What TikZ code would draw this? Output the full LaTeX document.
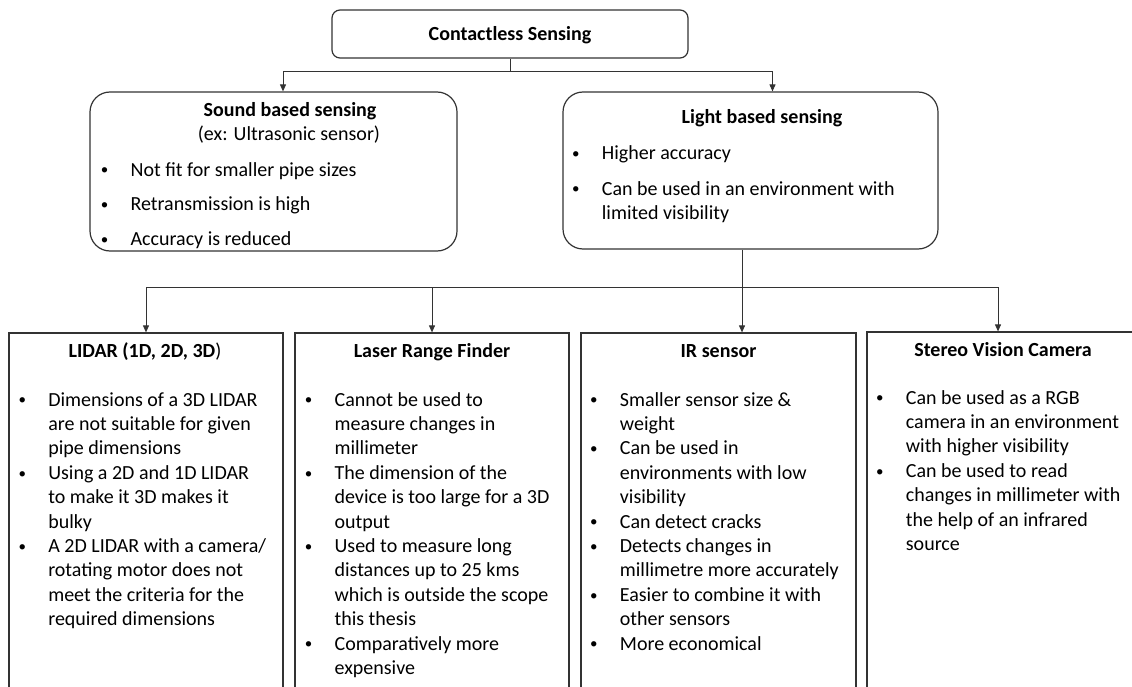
\documentclass[tikz,border=0pt]{standalone}
\usepackage{fontspec}
\usepackage{graphicx}
\setmainfont{Carlito}
\usetikzlibrary{arrows.meta}
\tikzset{frame/.style={draw=black!80, line width=1.2pt, inner sep=0pt},
  rframe/.style={frame, rounded corners=#1},
  head/.style={font=\fontsize{20}{24.4}\selectfont\bfseries, anchor=base, inner sep=0pt},
  plain/.style={font=\fontsize{20}{24.4}\selectfont, anchor=base, inner sep=0pt},
  lst/.style={font=\fontsize{20}{24.4}\selectfont, anchor=north west, inner sep=0pt},
  link/.style={draw=black!80, line width=0.9pt},
  arr/.style={link, -{Triangle[length=7pt,width=6pt]}}}
\newcommand{\dotb}{\hspace{1pt}\raisebox{1.2pt}{\scalebox{0.75}{\textbullet}}}
\newenvironment{pts}{\begin{tabular}{@{}p{30.7pt}@{}l@{}}}{\end{tabular}}

\begin{document}
\begin{tikzpicture}[x=1pt, y=-1pt]
      \useasboundingbox (0,0) rectangle (1132,687);
      \clip (0,0) rectangle (1132,687);

      % boxes
      \node [rframe=8pt, minimum width=356pt, minimum height=48pt] (cs) at (510,34) {};
      \node [rframe=20pt, minimum width=367pt, minimum height=159pt] (sound) at (273.5,171.5) {};
      \node [rframe=20pt, minimum width=375pt, minimum height=157pt] (light) at (750.5,170.5) {};
      \node [frame, minimum width=274pt, minimum height=387pt] (lidar) at (146,526.5) {};
      \node [frame, minimum width=274pt, minimum height=387pt] (laser) at (432,526.5) {};
      \node [frame, minimum width=275pt, minimum height=387pt] (ir) at (718.5,526.5) {};
      \node [frame, minimum width=274pt, minimum height=389pt] (stereo) at (1004,526.5) {};

      % connectors
      \coordinate (j1) at (510,71);
      \draw [link] (cs.south) -- (j1);
      \draw [arr] (j1) -| ([xshift=9.5pt]sound.north);
      \draw [arr] (j1) -| ([xshift=22pt]light.north);

      \coordinate (j2) at (742,287);
      \draw [arr] ([xshift=-8.5pt]light.south) -- ([xshift=23.5pt]ir.north);
      \draw [arr] (j2) -| (lidar.north);
      \draw [arr] (j2) -| (laser.north);
      \draw [arr] (j2) -| ([xshift=-6pt]stereo.north);

      % texts
      \node [head] (cs-t) at (510,41) {Contactless Sensing};

      \node [head] (sound-t) at (290,117) {Sound based sensing};
      \node [plain] (sound-s) at (289,141) {(ex: Ultrasonic sensor)};
      \node [lst] (sound-l) at (99.7,158.9) {\begin{pts}
        \dotb & Not fit for smaller pipe sizes\\[10.3pt]
        \dotb & Retransmission is high\\[10.3pt]
        \dotb & Accuracy is reduced
      \end{pts}};

      \node [head] (light-t) at (762,124) {Light based sensing};
      \node [lst] (light-l) at (571,142.2) {\begin{pts}
        \dotb & Higher accuracy\\[11.3pt]
        \dotb & Can be used in an environment with\\
        & limited visibility
      \end{pts}};

      \node [head] (lidar-t) at (145,357.7) {\textbf{LIDAR (1D, 2D, 3D}\mdseries)};
      \node [lst] (lidar-l) at (17.4,388.9) {\begin{pts}
        \dotb & Dimensions of a 3D LIDAR\\
        & are not suitable for given\\
        & pipe dimensions\\
        \dotb & Using a 2D and 1D LIDAR\\
        & to make it 3D makes it\\
        & bulky\\
        \dotb & A 2D LIDAR with a camera/\\
        & rotating motor does not\\
        & meet the criteria for the\\
        & required dimensions
      \end{pts}};

      \node [head] (laser-t) at (432,357.7) {Laser Range Finder};
      \node [lst] (laser-l) at (303.7,388.9) {\begin{pts}
        \dotb & Cannot be used to\\
        & measure changes in\\
        & millimeter\\
        \dotb & The dimension of the\\
        & device is too large for a 3D\\
        & output\\
        \dotb & Used to measure long\\
        & distances up to 25 kms\\
        & which is outside the scope\\
        & this thesis\\
        \dotb & Comparatively more\\
        & expensive
      \end{pts}};

      \node [head] (ir-t) at (718.5,357.7) {IR sensor};
      \node [lst] (ir-l) at (589,388.9) {\begin{pts}
        \dotb & Smaller sensor size \&\\
        & weight\\
        \dotb & Can be used in\\
        & environments with low\\
        & visibility\\
        \dotb & Can detect cracks\\
        \dotb & Detects changes in\\
        & millimetre more accurately\\
        \dotb & Easier to combine it with\\
        & other sensors\\
        \dotb & More economical
      \end{pts}};

      \node [head] (stereo-t) at (1003,356) {Stereo Vision Camera};
      \node [lst] (stereo-l) at (875,386.9) {\begin{pts}
        \dotb & Can be used as a RGB\\
        & camera in an environment\\
        & with higher visibility\\
        \dotb & Can be used to read\\
        & changes in millimeter with\\
        & the help of an infrared\\
        & source
      \end{pts}};
\end{tikzpicture}
\end{document}
